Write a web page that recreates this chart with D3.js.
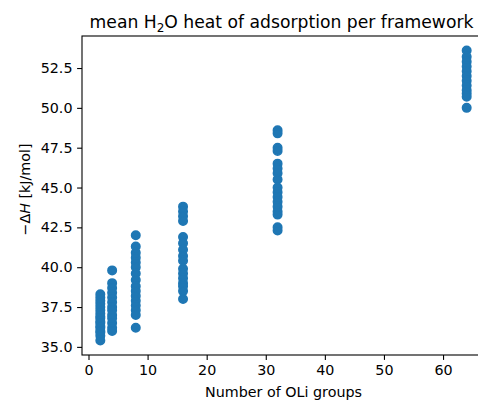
<!DOCTYPE html>
<html>
<head>
<meta charset="utf-8">
<script src="https://cdn.jsdelivr.net/npm/d3@7"></script>
<style>
  html, body { margin: 0; padding: 0; background: #fff; }
  svg { display: block; font-family: "DejaVu Sans", sans-serif; }
</style>
</head>
<body>
<svg id="chart" width="478" height="400"></svg>
<script>
// Number of OLi groups per framework (x positions of each column)
const groups = [2, 4, 8, 16, 32, 64];

// Mean -ΔH (kJ/mol) of the frameworks in each group
const dH_2  = [38.3, 38.1, 37.9, 37.7, 37.5, 37.3, 37.1, 36.9, 36.8, 36.6, 36.5, 36.3, 36.2, 36.0, 35.9, 35.7, 35.4];
const dH_4  = [39.8, 39.0, 38.7, 38.4, 38.1, 37.8, 37.5, 37.3, 37.0, 36.8, 36.5, 36.2, 36.0];
const dH_8  = [42.0, 41.3, 40.9, 40.6, 40.3, 40.0, 39.6, 39.2, 38.8, 38.5, 38.2, 37.9, 37.6, 37.3, 37.0, 36.2];
const dH_16 = [43.8, 43.5, 43.2, 42.9, 41.9, 41.5, 41.1, 40.7, 40.4, 39.9, 39.6, 39.3, 39.0, 38.8, 38.5, 38.0];
const dH_32 = [48.6, 48.4, 47.5, 47.3, 46.5, 46.2, 45.9, 45.5, 45.0, 44.7, 44.4, 44.1, 43.8, 43.5, 43.3, 42.5, 42.3];
const dH_64 = [53.6, 53.2, 52.9, 52.6, 52.3, 52.0, 51.7, 51.4, 51.1, 50.9, 50.7, 50.0];

// Axis ticks
const xTicks = [0, 10, 20, 30, 40, 50, 60];
const yTicks = [35.0, 37.5, 40.0, 42.5, 45.0, 47.5, 50.0, 52.5];

const series = [dH_2, dH_4, dH_8, dH_16, dH_32, dH_64];
const points = [];
groups.forEach((g, i) => series[i].forEach(v => points.push({ x: g, y: v })));

// Plot area
const plotLeft = 82, plotRight = 485, plotTop = 36, plotBottom = 355;

const xMin = d3.min(groups), xMax = d3.max(groups);
const yMin = d3.min(points, d => d.y), yMax = d3.max(points, d => d.y);
const xPad = (xMax - xMin) * 0.05, yPad = (yMax - yMin) * 0.05;

const x = d3.scaleLinear().domain([xMin - xPad, xMax + xPad]).range([plotLeft, plotRight]);
const y = d3.scaleLinear().domain([yMin - yPad, yMax + yPad]).range([plotBottom, plotTop]);

const svg = d3.select("#chart");
const fontSize = 14.3;
const tickLen = 4.9, tickPad = 4.6;

// Scatter points
svg.append("g")
  .selectAll("circle")
  .data(points)
  .join("circle")
  .attr("cx", d => x(d.x))
  .attr("cy", d => y(d.y))
  .attr("r", 4.2)
  .attr("fill", "#1f77b4")
  .attr("stroke", "#1f77b4")
  .attr("stroke-width", 1.6);

// Axes
const xAxis = d3.axisBottom(x).tickValues(xTicks).tickFormat(d3.format("d"))
  .tickSize(tickLen).tickPadding(tickPad).tickSizeOuter(0);
const yAxis = d3.axisLeft(y).tickValues(yTicks).tickFormat(d3.format(".1f"))
  .tickSize(tickLen).tickPadding(tickPad).tickSizeOuter(0);

const gx = svg.append("g").attr("transform", `translate(0,${plotBottom})`).call(xAxis);
const gy = svg.append("g").attr("transform", `translate(${plotLeft},0)`).call(yAxis);

[gx, gy].forEach(g => {
  g.select(".domain").remove();
  g.selectAll(".tick line").attr("stroke", "#000").attr("stroke-width", 1.1);
  g.selectAll(".tick text")
    .attr("fill", "#000")
    .style("font-family", "'DejaVu Sans', sans-serif")
    .style("font-size", fontSize + "px");
});

// Frame (spines)
svg.append("rect")
  .attr("x", plotLeft).attr("y", plotTop)
  .attr("width", plotRight - plotLeft).attr("height", plotBottom - plotTop)
  .attr("fill", "none")
  .attr("stroke", "#000")
  .attr("stroke-width", 1.1);

// Title with subscript
const title = svg.append("text")
  .attr("x", (plotLeft + plotRight) / 2 - 2)
  .attr("y", 28)
  .attr("text-anchor", "middle")
  .style("font-size", "17.2px")
  .attr("fill", "#000");
title.append("tspan").text("mean H");
title.append("tspan").attr("dy", 3.6).style("font-size", "12px").text("2");
title.append("tspan").attr("dy", -3.6).text("O heat of adsorption per framework");

// X label
svg.append("text")
  .attr("x", (plotLeft + plotRight) / 2)
  .attr("y", 397)
  .attr("text-anchor", "middle")
  .style("font-size", fontSize + "px")
  .attr("fill", "#000")
  .text("Number of OLi groups");

// Y label
const yl = svg.append("text")
  .attr("transform", `translate(30,${(plotTop + plotBottom) / 2 - 6}) rotate(-90)`)
  .attr("text-anchor", "middle")
  .style("font-size", fontSize + "px")
  .attr("fill", "#000");
yl.append("tspan").text("\u2212\u0394");
yl.append("tspan").style("font-style", "italic").text("H");
yl.append("tspan").text(" [kJ/mol]");
</script>
</body>
</html>
